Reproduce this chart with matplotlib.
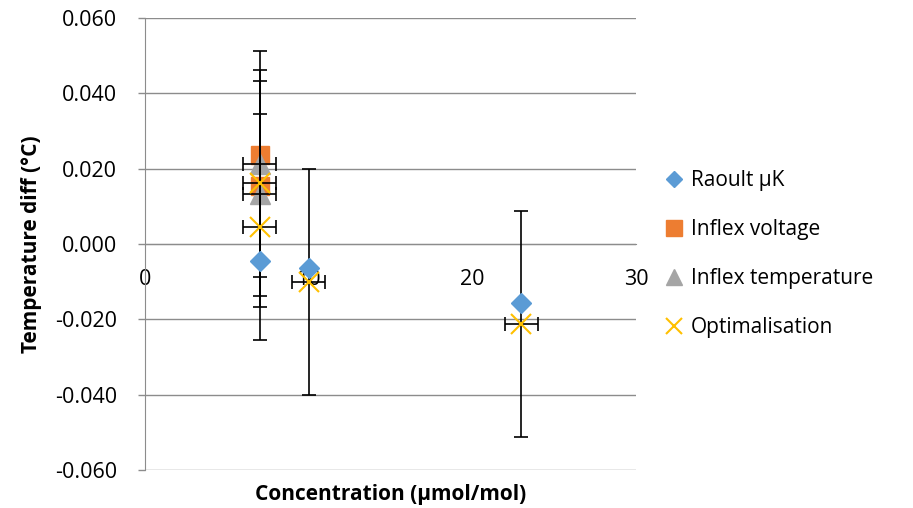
import matplotlib
matplotlib.use("Agg")
import matplotlib.pyplot as plt
from matplotlib.ticker import FormatStrFormatter, MultipleLocator

plt.rcParams['font.family'] = ['Open Sans', 'DejaVu Sans']
plt.rcParams['axes.unicode_minus'] = False

# Data
raoult_x = [7, 10, 23]
raoult_y = [-0.0045, -0.0064, -0.0156]

voltage_x = [7, 7]
voltage_y = [0.0236, 0.0155]

temp_x = [7, 7]
temp_y = [0.0213, 0.0133]
temp_xerr = [1, 1]
temp_yerr = [0.030, 0.030]

opt_x = [7, 7, 10, 23]
opt_y = [0.0163, 0.0045, -0.0100, -0.0212]
opt_xerr = [1, 1, 1, 1]
opt_yerr = [0.030, 0.030, 0.030, 0.030]

labels = ["Raoult µK", "Inflex voltage", "Inflex temperature", "Optimalisation"]
colors = ["#5B9BD5", "#ED7D31", "#A5A5A5", "#FFC000"]
x_ticks = [0, 10, 20, 30]

fig = plt.figure(figsize=(9.13, 5.08), dpi=100)
ax = fig.add_axes([145/913, 1-470/508, (636-145)/913, (470-18)/508])

ax.set_xlim(0, 30)
ax.set_ylim(-0.06, 0.06)
ax.yaxis.set_major_locator(MultipleLocator(0.02))
ax.yaxis.set_major_formatter(FormatStrFormatter('%.3f'))
ax.set_xticks(x_ticks)
ax.set_xticklabels([str(t) for t in x_ticks])

ax.grid(axis='y', color='#8C8C8C', linewidth=1)
ax.set_axisbelow(True)
for s in ['top', 'right']:
    ax.spines[s].set_visible(False)
ax.spines['left'].set_color('#8C8C8C')
ax.spines['bottom'].set_position(('data', 0))
ax.spines['bottom'].set_color('#8C8C8C')

ax.tick_params(axis='y', length=5, width=1, color='#8C8C8C', pad=15, labelsize=15.5)
ax.tick_params(axis='x', length=0, pad=18, labelsize=15.5)

ebkw = dict(ecolor='black', elinewidth=1.2, capsize=5, capthick=1.2, linestyle='none', marker='none', zorder=3)

h2, = ax.plot(voltage_x, voltage_y, 's', color=colors[1], markersize=13.5, linestyle='none', zorder=2, label=labels[1])
h3, = ax.plot(temp_x, temp_y, '^', color=colors[2], markersize=14, linestyle='none', zorder=2, label=labels[2])
ax.errorbar(temp_x, temp_y, xerr=temp_xerr, yerr=temp_yerr, **ebkw)
ax.errorbar(opt_x, opt_y, xerr=opt_xerr, yerr=opt_yerr, **ebkw)
h4, = ax.plot(opt_x, opt_y, 'x', color=colors[3], markersize=14, markeredgewidth=1.5, linestyle='none', zorder=4, label=labels[3])
h1, = ax.plot(raoult_x, raoult_y, 'D', color=colors[0], markersize=10, linestyle='none', zorder=5, label=labels[0])

ax.set_xlabel("Concentration (µmol/mol)", fontsize=15, fontweight='bold')
ax.xaxis.set_label_coords(0.5, -0.032)
ax.set_ylabel("Temperature diff (°C)", fontsize=15, fontweight='bold')
ax.yaxis.set_label_coords(-0.21, 0.5)

fig.legend(handles=[h1, h2, h3, h4], labels=labels, loc='center left',
           bbox_to_anchor=(645/913, 1-254/508), frameon=False, fontsize=15,
           handlelength=1.0, handletextpad=0.3, labelspacing=1.35, markerscale=0.85)

fig.savefig("out.png", dpi=100)
